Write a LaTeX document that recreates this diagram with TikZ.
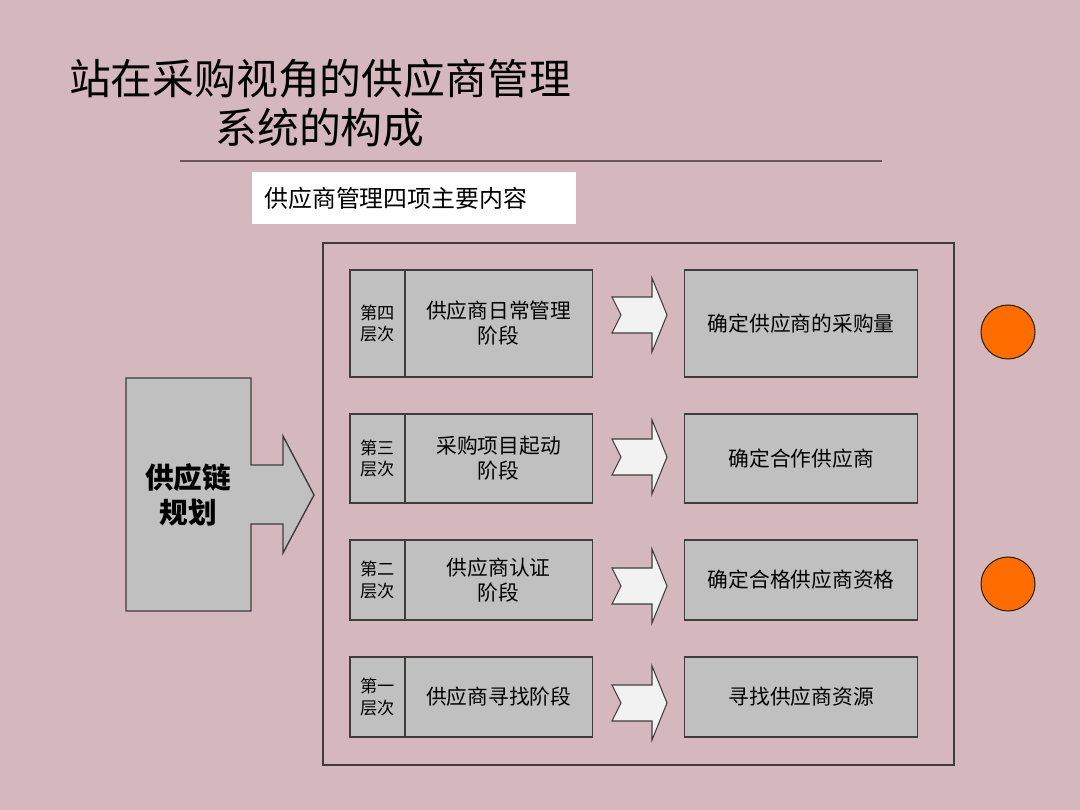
\documentclass[tikz,border=0pt]{standalone}
\usepackage{fontspec}
\setmainfont{Noto Sans CJK SC}
\usetikzlibrary{positioning,calc}
\definecolor{slidebg}{RGB}{212,184,189}
\definecolor{boxgray}{RGB}{192,192,192}
\definecolor{boxline}{RGB}{64,60,60}
\definecolor{rulebrown}{RGB}{105,85,88}
\definecolor{dotorange}{RGB}{255,108,0}
\definecolor{arrowfill}{RGB}{242,242,242}

\begin{document}
\begin{tikzpicture}[x=0.02cm, y=-0.02cm,
    every node/.style={font=\fontsize{12}{14}\selectfont},
    basebox/.style={draw=boxline, fill=boxgray, line width=0.8pt, inner sep=0pt, align=center},
    levelbox/.style={basebox, minimum width=1.1cm, font=\fontsize{9.8}{12.5}\selectfont},
    stagebox/.style={basebox, minimum width=3.75cm, font=\fontsize{11.8}{14.2}\selectfont},
    resultbox/.style={basebox, minimum width=4.66cm, font=\fontsize{11.8}{14.2}\selectfont},
    flowarrow/.style={draw=boxline, fill=arrowfill, line width=0.6pt},
    dot/.style={circle, draw=black!75!brown, fill=dotorange, line width=0.6pt, minimum size=1.08cm, inner sep=0pt}
  ]
    % slide background
    \fill[slidebg] (0,0) rectangle (1080,810);

    % title
    \node[align=center, font=\fontsize{23.8}{27.8}\selectfont] (title) at (320,103) {站在采购视角的供应商管理\\系统的构成};
    \draw[rulebrown, line width=1pt] (180,161) -- (882,161);
    \node[fill=white, anchor=north west, align=left, text width=6cm, inner xsep=0.24cm, inner ysep=0pt,
          minimum height=1.04cm, font=\fontsize{13.6}{16}\selectfont] (subtitle) at (252,172) {供应商管理四项主要内容};

    % frame round the four levels
    \node[draw=boxline, line width=0.8pt, minimum width=12.62cm, minimum height=10.44cm, inner sep=0pt] (frame) at (638.5,504) {};

    % supply chain planning block arrow
    \draw[basebox] (126,378) -- (251,378) -- (251,465) -- (283,465) -- (283,436) -- (314,495)
      -- (283,553) -- (283,524) -- (251,524) -- (251,611) -- (126,611) -- cycle;
    \node[align=center, font=\fontsize{16.3}{20.4}\selectfont\bfseries] (plan) at (188,495) {供应链\\规划};

    % four levels
    \foreach \lvl/\cy/\h/\ay/\num/\stage/\result in {
        4/323.5/107/315/{第四\\层次}/{供应商日常管理\\阶段}/确定供应商的采购量,
        3/458.5/89/457/{第三\\层次}/{采购项目起动\\阶段}/确定合作供应商,
        2/580/80/586/{第二\\层次}/{供应商认证\\阶段}/确定合格供应商资格,
        1/697/80/703/{第一\\层次}/供应商寻找阶段/寻找供应商资源} {
      \node[levelbox, minimum height=\h*0.02cm] (level\lvl) at (377.5,\cy) {\num};
      \node[stagebox, minimum height=\h*0.02cm, anchor=west, xshift=-0.8pt] (stage\lvl) at (level\lvl.east) {\stage};
      \node[resultbox, minimum height=\h*0.02cm, anchor=west] (result\lvl) at (684,\cy) {\result};
      \coordinate (arr\lvl) at (612,\ay);
      \draw[flowarrow] (arr\lvl) ++(0,-18) -- ++(40,0) -- ++(0,-19) -- ++(15,37) -- ++(-15,37)
        -- ++(0,-19) -- ++(-40,0) -- ++(9,-18) -- cycle;
    }

    % side dots
    \node[dot] (dotA) at (1008,332) {};
    \node[dot] (dotB) at (1008,584) {};
  \end{tikzpicture}
\end{document}
